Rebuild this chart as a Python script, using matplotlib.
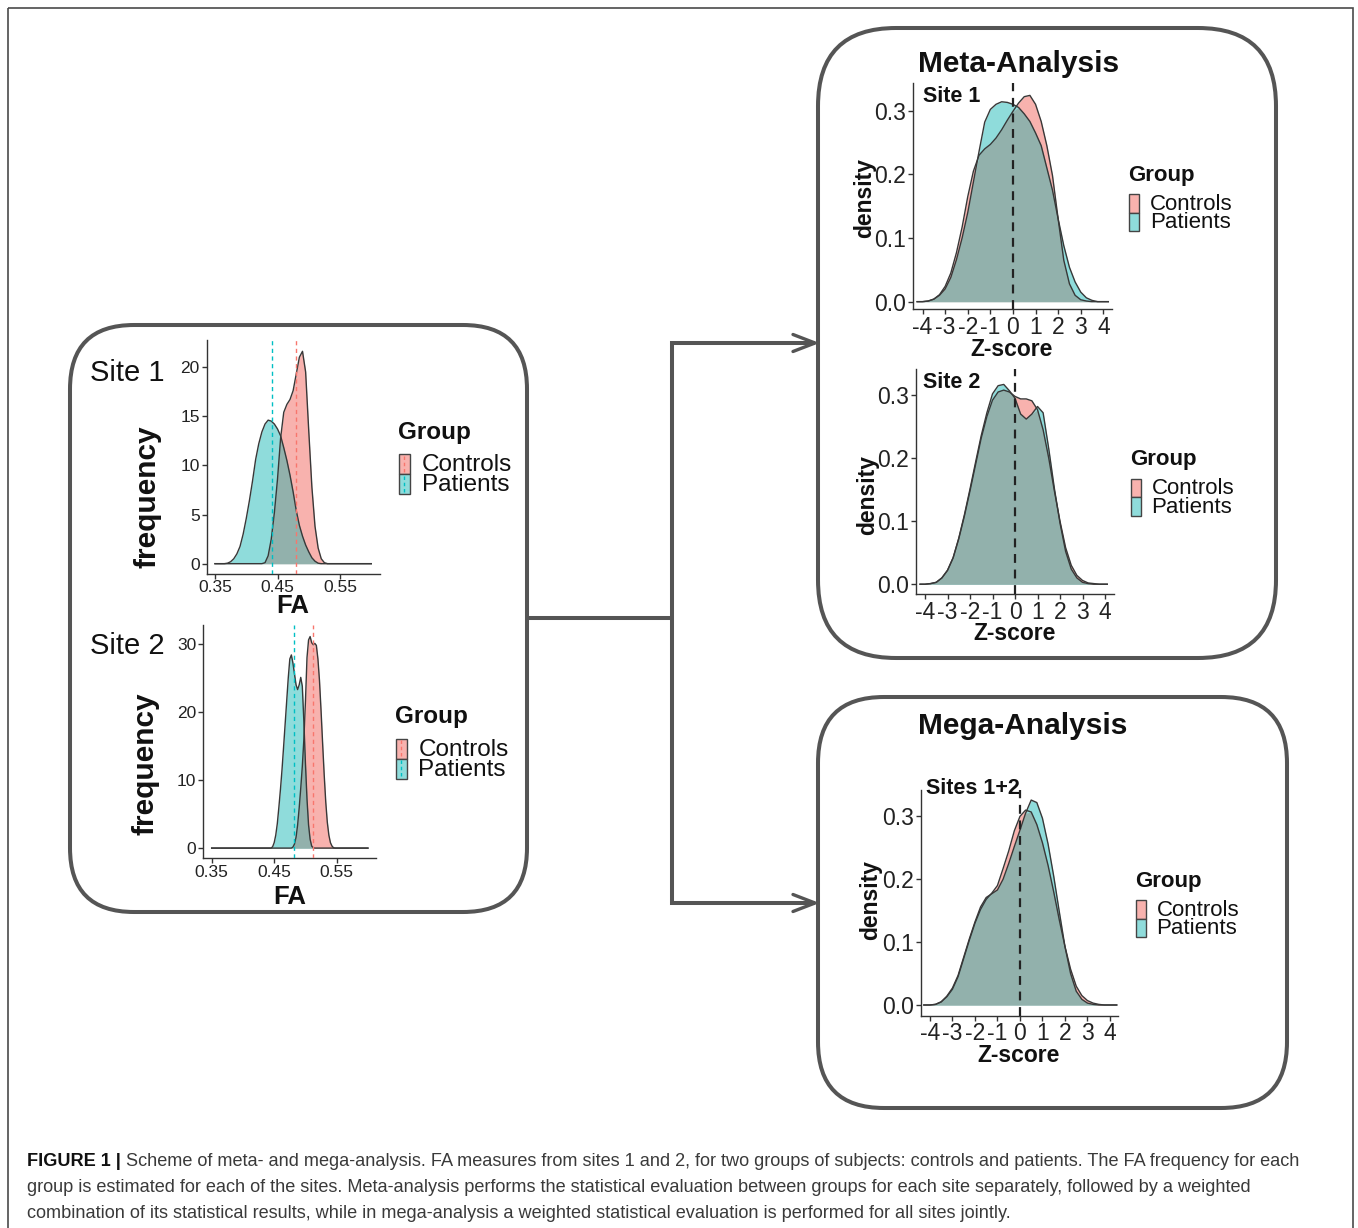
import numpy as np
import matplotlib
matplotlib.use('Agg')
import matplotlib.pyplot as plt
from matplotlib.patches import FancyBboxPatch, Rectangle

plt.rcParams['font.family'] = ['Liberation Sans', 'DejaVu Sans']

W, H = 1358, 1228

# ---------------- data ----------------
groups = ['Controls', 'Patients']

# Site 1, FA density (frequency)
site1_fa = [0.365, 0.370, 0.375, 0.380, 0.385, 0.390, 0.395, 0.400, 0.405, 0.410,
            0.415, 0.420, 0.425, 0.430, 0.435, 0.440, 0.445, 0.450, 0.455, 0.460,
            0.465, 0.470, 0.475, 0.480, 0.485, 0.490, 0.495, 0.500, 0.505, 0.510,
            0.515, 0.520, 0.525, 0.530]
site1_controls = [0, 0, 0, 0, 0, 0, 0, 0, 0, 0,
                  0, 0, 0, 0.1, 0.8, 2.5, 5.2, 8.6, 12.8, 15.4,
                  16.2, 16.7, 17.6, 19.3, 21.0, 21.6, 19.5, 13.5, 7.8, 3.8,
                  1.6, 0.5, 0.1, 0]
site1_patients = [0, 0.05, 0.2, 0.5, 1.0, 1.75, 3.0, 4.6, 6.4, 8.4,
                  10.6, 12.2, 13.4, 14.2, 14.6, 14.5, 14.2, 13.7, 13.0, 11.8,
                  10.5, 9.0, 7.3, 5.4, 3.9, 2.8, 1.9, 1.2, 0.6, 0.25,
                  0.05, 0, 0, 0]
site1_means = [0.4796, 0.4417]          # Controls, Patients
site1_yticks = [0, 5, 10, 15, 20]

# Site 2, FA density (frequency)
site2_fa = [0.4425, 0.4450, 0.4475, 0.4500, 0.4525, 0.4550, 0.4575, 0.4600, 0.4625, 0.4650,
            0.4675, 0.4700, 0.4725, 0.4750, 0.4775, 0.4800, 0.4825, 0.4850, 0.4875, 0.4900,
            0.4925, 0.4950, 0.4975, 0.5000, 0.5025, 0.5050, 0.5075, 0.5100, 0.5125, 0.5150,
            0.5175, 0.5200, 0.5225, 0.5250, 0.5275, 0.5300, 0.5325, 0.5350, 0.5375, 0.5400,
            0.5425, 0.5450, 0.5475]
site2_controls = [0, 0, 0, 0, 0, 0, 0, 0, 0, 0,
                  0, 0, 0, 0, 0, 0.15, 0.6, 1.6, 3.4, 5.9,
                  8.8, 12.0, 16.0, 21.5, 28.0, 30.6, 31.1, 30.2, 29.9, 30.1,
                  29.8, 27.8, 24.6, 20.2, 15.4, 10.8, 6.8, 3.8, 1.9, 0.8,
                  0.3, 0.05, 0]
site2_patients = [0, 0, 0.2, 0.8, 1.9, 3.6, 6.0, 8.6, 11.5, 14.8,
                  18.2, 21.6, 25.0, 27.8, 28.4, 27.2, 25.6, 24.0, 23.3, 24.0,
                  25.1, 23.8, 18.6, 12.5, 7.2, 3.4, 1.3, 0.3, 0.05, 0,
                  0, 0, 0, 0, 0, 0, 0, 0, 0, 0,
                  0, 0, 0]
site2_means = [0.5116, 0.4820]
site2_yticks = [0, 10, 20, 30]

fa_range = [0.35, 0.60]
fa_xticks = [0.35, 0.45, 0.55]
fa_xticklabels = ['0.35', '0.45', '0.55']

# Z-score densities
z_grid = [-4.0, -3.75, -3.5, -3.25, -3.0, -2.75, -2.5, -2.25, -2.0, -1.75,
          -1.5, -1.25, -1.0, -0.75, -0.5, -0.25, 0.0, 0.25, 0.5, 0.75,
          1.0, 1.25, 1.5, 1.75, 2.0, 2.25, 2.5, 2.75, 3.0, 3.25,
          3.5, 3.75, 4.0]
meta1_controls = [0.0, 0.001, 0.004, 0.011, 0.024, 0.045, 0.077, 0.117, 0.165, 0.205,
                  0.230, 0.240, 0.247, 0.257, 0.270, 0.285, 0.299, 0.312, 0.322, 0.324,
                  0.310, 0.283, 0.245, 0.198, 0.130, 0.065, 0.028, 0.010, 0.003, 0.001,
                  0.0, 0.0, 0.0]
meta1_patients = [0.0, 0.001, 0.004, 0.010, 0.020, 0.038, 0.066, 0.100, 0.140, 0.188,
                  0.236, 0.282, 0.302, 0.310, 0.314, 0.313, 0.310, 0.305, 0.295, 0.283,
                  0.265, 0.245, 0.210, 0.175, 0.130, 0.088, 0.054, 0.031, 0.015, 0.006,
                  0.002, 0.0, 0.0]
meta2_controls = [0.0, 0.001, 0.003, 0.010, 0.022, 0.042, 0.072, 0.108, 0.148, 0.190,
                  0.232, 0.266, 0.292, 0.305, 0.308, 0.305, 0.298, 0.294, 0.294, 0.291,
                  0.277, 0.245, 0.200, 0.148, 0.100, 0.058, 0.030, 0.014, 0.006, 0.002,
                  0.001, 0.0, 0.0]
meta2_patients = [0.0, 0.001, 0.003, 0.010, 0.022, 0.042, 0.073, 0.110, 0.151, 0.194,
                  0.236, 0.272, 0.302, 0.315, 0.317, 0.307, 0.295, 0.270, 0.262, 0.270,
                  0.282, 0.272, 0.215, 0.152, 0.097, 0.052, 0.024, 0.010, 0.003, 0.001,
                  0.0, 0.0, 0.0]
mega_controls = [0.0, 0.001, 0.005, 0.013, 0.025, 0.045, 0.074, 0.103, 0.130, 0.152,
                 0.168, 0.178, 0.190, 0.217, 0.245, 0.277, 0.300, 0.310, 0.307, 0.287,
                 0.258, 0.222, 0.180, 0.135, 0.093, 0.057, 0.030, 0.015, 0.007, 0.003,
                 0.001, 0.0, 0.0]
mega_patients = [0.0, 0.001, 0.005, 0.014, 0.027, 0.047, 0.076, 0.105, 0.132, 0.156,
                 0.171, 0.177, 0.183, 0.200, 0.225, 0.252, 0.278, 0.305, 0.326, 0.322,
                 0.297, 0.256, 0.205, 0.148, 0.093, 0.050, 0.022, 0.009, 0.003, 0.001,
                 0.0, 0.0, 0.0]
z_xticks = [-4, -3, -2, -1, 0, 1, 2, 3, 4]
z_xticklabels = ['-4', '-3', '-2', '-1', '0', '1', '2', '3', '4']
z_yticks = [0.0, 0.1, 0.2, 0.3]
z_yticklabels = ['0.0', '0.1', '0.2', '0.3']

caption_bold = 'FIGURE 1 | '
caption_lines = [
    'Scheme of meta- and mega-analysis. FA measures from sites 1 and 2, for two groups of subjects: controls and patients. The FA frequency for each',
    'group is estimated for each of the sites. Meta-analysis performs the statistical evaluation between groups for each site separately, followed by a weighted',
    'combination of its statistical results, while in mega-analysis a weighted statistical evaluation is performed for all sites jointly.',
]

# ---------------- style ----------------
PINK = '#F8B2AE'
TEAL = '#8FDCDB'
OVER = '#92B1AC'
PINK_LINE = '#F8766D'
TEAL_LINE = '#00BFC4'
OUTLINE = '#383838'
AXC = '#333333'
BOXC = '#555555'

fig = plt.figure(figsize=(W / 100, H / 100), dpi=100)
fig.patch.set_facecolor('white')
ax0 = fig.add_axes([0, 0, 1, 1])
ax0.set_xlim(0, W)
ax0.set_ylim(H, 0)
ax0.axis('off')


def frac(l, t, r, b):
    return [l / W, 1 - b / H, (r - l) / W, (b - t) / H]


def density_panel(box, xg, yc, yp, xlim, ylim, base, xticks, xtl, yticks, ytl,
                  tick_fs, vlines, colored_vlines):
    ax = fig.add_axes(frac(*box))
    ax.set_facecolor('none')
    x = np.asarray(xg, float)
    yc = np.asarray(yc, float)
    yp = np.asarray(yp, float)
    ax.fill_between(x, 0, yc, color=PINK, lw=0, zorder=1)
    ax.fill_between(x, 0, yp, color=TEAL, lw=0, zorder=1.5)
    ax.fill_between(x, 0, np.minimum(yc, yp), color=OVER, lw=0, zorder=2)
    xb = np.concatenate([[base[0]], x, [base[1]]])
    ax.plot(xb, np.concatenate([[0], yc, [0]]), color=OUTLINE, lw=1.0, zorder=3)
    ax.plot(xb, np.concatenate([[0], yp, [0]]), color=OUTLINE, lw=1.0, zorder=3)
    if colored_vlines:
        for v, c in zip(vlines, [PINK_LINE, TEAL_LINE]):
            ax.axvline(v, color=c, lw=1.0, ls=(0, (3, 2.5)), zorder=4)
    else:
        for v in vlines:
            ax.axvline(v, color='#222222', lw=1.6, ls=(0, (4, 3)), zorder=4)
    ax.set_xlim(*xlim)
    ax.set_ylim(*ylim)
    ax.set_xticks(xticks)
    ax.set_xticklabels(xtl)
    ax.set_yticks(yticks)
    ax.set_yticklabels(ytl)
    for s in ['top', 'right']:
        ax.spines[s].set_visible(False)
    for s in ['left', 'bottom']:
        ax.spines[s].set_color(AXC)
        ax.spines[s].set_linewidth(1.0)
    ax.tick_params(axis='both', direction='out', length=3.5, width=1.0, color=AXC,
                   labelsize=tick_fs, labelcolor='#222222')
    ax.tick_params(axis='y', pad=1.5)
    ax.tick_params(axis='x', pad=1.0)
    return ax


# left panels
density_panel((206.7, 340, 380, 574), site1_fa, site1_controls, site1_patients,
              (0.3367, 0.614), (-1.05, 22.75), fa_range, fa_xticks, fa_xticklabels,
              site1_yticks, [str(v) for v in site1_yticks], 12.5, site1_means, True)
density_panel((203.3, 625, 376, 858.3), site2_fa, site2_controls, site2_patients,
              (0.3366, 0.6129), (-1.5, 32.8), fa_range, fa_xticks, fa_xticklabels,
              site2_yticks, [str(v) for v in site2_yticks], 12.5, site2_means, True)
# right panels
density_panel((913.3, 83.3, 1111.7, 309.3), z_grid, meta1_controls, meta1_patients,
              (-4.41, 4.37), (-0.012, 0.343), (-4.24, 4.22), z_xticks, z_xticklabels,
              z_yticks, z_yticklabels, 16.5, [0], False)
density_panel((916, 369.3, 1114, 594.3), z_grid, meta2_controls, meta2_patients,
              (-4.4, 4.4), (-0.016, 0.341), (-4.22, 4.1), z_xticks, z_xticklabels,
              z_yticks, z_yticklabels, 16.5, [0], False)
density_panel((920.7, 790, 1118.3, 1016), z_grid, mega_controls, mega_patients,
              (-4.41, 4.37), (-0.0175, 0.342), (-4.27, 4.3), z_xticks, z_xticklabels,
              z_yticks, z_yticklabels, 16.5, [0], False)

# ---------------- frame, boxes, arrows ----------------
ax0.add_patch(Rectangle((8, 8), 1344.5, 1300, fill=False, ec='#4a4a4a', lw=1.2))
for (x0, y0, w, h, r) in [(70, 325, 457, 587, 64), (818, 28, 458, 630, 78),
                          (818, 697, 469, 411, 66)]:
    ax0.add_patch(FancyBboxPatch((x0, y0), w, h,
                                 boxstyle=f'round,pad=0,rounding_size={r}',
                                 fc='none', ec=BOXC, lw=2.9))
ax0.plot([527, 672], [618, 618], color=BOXC, lw=2.9, solid_capstyle='butt')
ax0.plot([815, 672, 672, 815], [343, 343, 903, 903], color=BOXC, lw=2.9,
         solid_joinstyle='miter', solid_capstyle='butt')
for ya in [343, 903]:
    ax0.plot([793, 815, 793], [ya - 8.5, ya, ya + 8.5],
             color=BOXC, lw=2.4, solid_capstyle='round', solid_joinstyle='miter')

# ---------------- texts ----------------
def legend(gx, gy, kx, kw, ktop, kh, tx, fs_t, fs_l, dashed):
    ax0.text(gx, gy, 'Group', fontsize=fs_t, fontweight='bold', ha='left', va='center',
             color='#111111')
    for i, (g, fc, lc) in enumerate(zip(groups, [PINK, TEAL], [PINK_LINE, TEAL_LINE])):
        y0 = ktop + i * kh
        ax0.add_patch(Rectangle((kx, y0), kw, kh, fc=fc, ec='#444444', lw=1.0))
        if dashed:
            ax0.plot([kx + kw / 2] * 2, [y0 + 1.5, y0 + kh - 1.5], color=lc, lw=1.0,
                     ls=(0, (2.5, 2)))
        ax0.text(tx, y0 + kh / 2 + 1, g, fontsize=fs_l, ha='left', va='center',
                 color='#111111')


# left box texts
ax0.text(90, 373, 'Site 1', fontsize=21, ha='left', va='center', color='#111111')
ax0.text(90, 646, 'Site 2', fontsize=21, ha='left', va='center', color='#111111')
ax0.text(148, 497, 'frequency', fontsize=21.5, fontweight='bold', rotation=90,
         ha='center', va='center', color='#111111')
ax0.text(146, 764, 'frequency', fontsize=21.5, fontweight='bold', rotation=90,
         ha='center', va='center', color='#111111')
ax0.text(293, 606, 'FA', fontsize=18.5, fontweight='bold', ha='center', va='center',
         color='#111111')
ax0.text(290, 897, 'FA', fontsize=18.5, fontweight='bold', ha='center', va='center',
         color='#111111')
legend(398, 432, 398.5, 11, 454, 20, 421.5, 17.5, 17.5, True)
legend(395, 716, 395.5, 11, 738.5, 20, 418.5, 17.5, 17.5, True)

# right box texts
ax0.text(1019, 64, 'Meta-Analysis', fontsize=21.5, fontweight='bold', ha='center',
         va='center', color='#111111')
ax0.text(1023, 726, 'Mega-Analysis', fontsize=21.5, fontweight='bold', ha='center',
         va='center', color='#111111')
ax0.text(923, 96.5, 'Site 1', fontsize=15.5, fontweight='bold', ha='left', va='center',
         color='#111111')
ax0.text(923, 383, 'Site 2', fontsize=15.5, fontweight='bold', ha='left', va='center',
         color='#111111')
ax0.text(926.5, 788, 'Sites 1+2', fontsize=15.5, fontweight='bold', ha='left',
         va='center', color='#111111')
for (x, y) in [(865, 198), (868, 495), (871, 900)]:
    ax0.text(x, y, 'density', fontsize=16.5, fontweight='bold', rotation=90,
             ha='center', va='center', color='#111111')
for (x, y) in [(1012, 350), (1015, 633), (1019, 1055)]:
    ax0.text(x, y, 'Z-score', fontsize=16.5, fontweight='bold', ha='center', va='center',
             color='#111111')
legend(1128, 175, 1128.5, 10, 194, 18.5, 1150, 16, 16, False)
legend(1130, 459, 1130.5, 10, 478.5, 18.5, 1151.5, 16, 16, False)
legend(1135, 881, 1135.5, 10, 900, 18.5, 1156.5, 16, 16, False)

# ---------------- caption ----------------
renderer = fig.canvas.get_renderer()
fs0 = 12.0
tb = ax0.text(27, 1166, caption_bold, fontsize=fs0, fontweight='bold', ha='left',
              va='baseline', color='#111111')
tr = ax0.text(0, 0, caption_lines[0], fontsize=fs0, ha='left', va='baseline')
wb = tb.get_window_extent(renderer).width
wr = tr.get_window_extent(renderer).width
tr.remove()
fs = fs0 * (1304 - 27) / (wb + wr)
tb.set_fontsize(fs)
wb = tb.get_window_extent(renderer).width
ax0.text(27 + wb, 1166, caption_lines[0], fontsize=fs, ha='left', va='baseline',
         color='#3a3a3a')
ax0.text(27, 1192.5, caption_lines[1], fontsize=fs, ha='left', va='baseline',
         color='#3a3a3a')
ax0.text(27, 1218.5, caption_lines[2], fontsize=fs, ha='left', va='baseline',
         color='#3a3a3a')

fig.savefig('out.png', dpi=100, facecolor='white')
